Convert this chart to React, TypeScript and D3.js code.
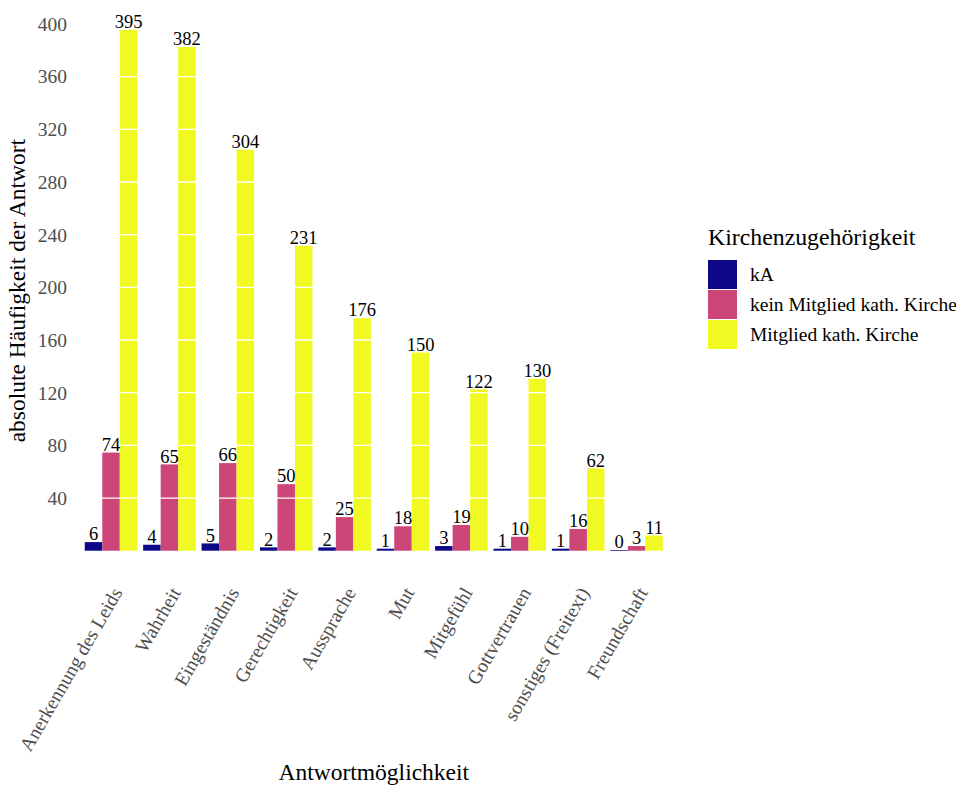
import React, { useRef, useEffect } from "react";
import * as d3 from "d3";

const categories = [
  "Anerkennung des Leids",
  "Wahrheit",
  "Eingeständnis",
  "Gerechtigkeit",
  "Aussprache",
  "Mut",
  "Mitgefühl",
  "Gottvertrauen",
  "sonstiges (Freitext)",
  "Freundschaft",
];
const groups = ["kA", "kein Mitglied kath. Kirche", "Mitglied kath. Kirche"];
const kA = [6, 4, 5, 2, 2, 1, 3, 1, 1, 0];
const keinMitglied = [74, 65, 66, 50, 25, 18, 19, 10, 16, 3];
const mitglied = [395, 382, 304, 231, 176, 150, 122, 130, 62, 11];
const yTicks = [40, 80, 120, 160, 200, 240, 280, 320, 360, 400];
const colors = ["#0d0887", "#cc4678", "#f0f921"];

const W = 956;
const H = 785;
const FONT = "'Liberation Serif', 'Times New Roman', serif";

const App: React.FC = () => {
  const svgRef = useRef<SVGSVGElement | null>(null);

  useEffect(() => {
    document.body.style.margin = "0";
    const svg = d3.select(svgRef.current);
    svg.selectAll("*").remove();

    const series = [kA, keinMitglied, mitglied];
    const rows = categories.map((c, i) => ({
      cat: c,
      vals: groups.map((g, j) => ({ group: g, value: series[j][i] })),
    }));

    const x0 = d3
      .scaleBand<string>()
      .domain(categories)
      .range([76, 671.6])
      .paddingInner(0.1)
      .paddingOuter(0.15);
    const x1 = d3.scaleBand<string>().domain(groups).range([0, x0.bandwidth()]);
    const y = d3.scaleLinear().domain([0, 400]).range([550.7, 24]);
    const color = d3.scaleOrdinal<string>().domain(groups).range(colors);

    const g = svg.append("g").style("font-family", FONT);

    // bars
    const grp = g
      .selectAll("g.grp")
      .data(rows)
      .enter()
      .append("g")
      .attr("transform", (d) => `translate(${x0(d.cat)},0)`);

    grp
      .selectAll("rect")
      .data((d) => d.vals)
      .enter()
      .append("rect")
      .attr("x", (d) => x1(d.group)!)
      .attr("width", x1.bandwidth())
      .attr("y", (d) => y(d.value) - 0.7)
      .attr("height", (d) => y(0) - y(d.value) + 0.7)
      .attr("fill", (d) => color(d.group));

    // white grid on top of the bars
    g.selectAll("line.grid")
      .data(yTicks)
      .enter()
      .append("line")
      .attr("x1", 76)
      .attr("x2", 671.6)
      .attr("y1", (d) => y(d))
      .attr("y2", (d) => y(d))
      .attr("stroke", "#ffffff")
      .attr("stroke-width", 1.3);

    // value labels
    g.selectAll("g.lab")
      .data(rows)
      .enter()
      .append("g")
      .attr("transform", (d) => `translate(${x0(d.cat)},0)`)
      .selectAll("text")
      .data((d) => d.vals)
      .enter()
      .append("text")
      .attr("x", (d) => x1(d.group)! + x1.bandwidth() / 2)
      .attr("y", (d) => y(d.value) - 2.5)
      .attr("text-anchor", "middle")
      .style("font-size", "18.5px")
      .attr("fill", "#000")
      .text((d) => d.value);

    // y axis tick labels
    g.selectAll("text.ytick")
      .data(yTicks)
      .enter()
      .append("text")
      .attr("x", 67)
      .attr("y", (d) => y(d))
      .attr("dy", "0.35em")
      .attr("text-anchor", "end")
      .style("font-size", "19.5px")
      .attr("fill", "#4d4d4d")
      .text((d) => d);

    // x axis tick labels
    g.selectAll("text.xtick")
      .data(categories)
      .enter()
      .append("text")
      .attr(
        "transform",
        (d) => `translate(${x0(d)! + x0.bandwidth() / 2 + 6},${589}) rotate(-60)`
      )
      .attr("text-anchor", "end")
      .attr("dy", "0.35em")
      .style("font-size", "19.5px")
      .attr("fill", "#4d4d4d")
      .text((d) => d);

    // axis titles
    g.append("text")
      .attr("x", 373.8)
      .attr("y", 780)
      .attr("text-anchor", "middle")
      .style("font-size", "23.5px")
      .attr("fill", "#000")
      .text("Antwortmöglichkeit");

    g.append("text")
      .attr("transform", `translate(25,290.6) rotate(-90)`)
      .attr("text-anchor", "middle")
      .style("font-size", "23.5px")
      .attr("fill", "#000")
      .text("absolute Häufigkeit der Antwort");

    // legend
    const lg = g.append("g").attr("transform", "translate(708,0)");
    lg.append("text")
      .attr("x", 0)
      .attr("y", 245)
      .style("font-size", "23.8px")
      .attr("fill", "#000")
      .text("Kirchenzugehörigkeit");
    const items = lg
      .selectAll("g.item")
      .data(groups)
      .enter()
      .append("g")
      .attr("transform", (d, i) => `translate(0,${260 + i * 30})`);
    items
      .append("rect")
      .attr("width", 29)
      .attr("height", 29)
      .attr("fill", (d) => color(d));
    items
      .append("text")
      .attr("x", 42)
      .attr("y", 14.5)
      .attr("dy", "0.35em")
      .style("font-size", "19.5px")
      .attr("fill", "#000")
      .text((d) => d);
  }, []);

  return <svg ref={svgRef} width={W} height={H} style={{ display: "block" }} />;
};

export default App;
